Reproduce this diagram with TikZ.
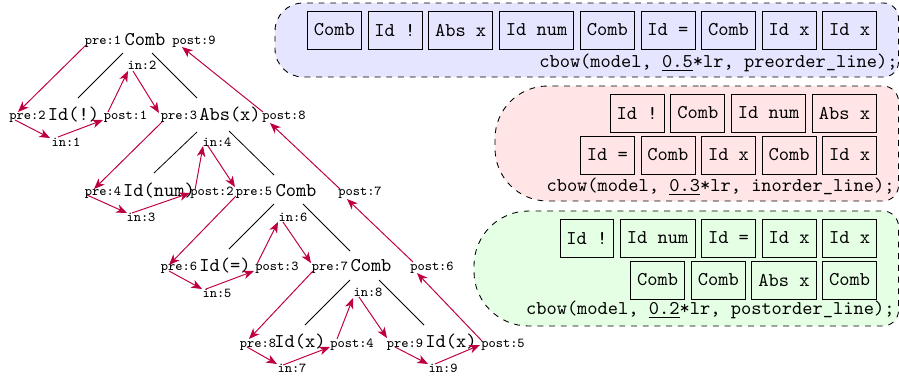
\documentclass[tikz,border=0pt]{standalone}
\usetikzlibrary{arrows.meta,positioning}
\begin{document}
\begin{tikzpicture}[x=0.5128pt,y=-0.5128pt,
  tnode/.style={font=\ttfamily, inner sep=1pt},
  lab/.style={font=\scriptsize\ttfamily, inner sep=0.5pt},
  trav/.style={draw=purple, line width=0.5pt, -{Stealth[length=5.5pt,width=4.4pt,inset=1.6pt]}},
  tok/.style={draw, font=\ttfamily, minimum height=19.5pt, inner xsep=3.33pt, anchor=east},
  grp/.style={draw, dashed, line width=0.45pt},
  cb/.style={font=\ttfamily, anchor=base east, inner sep=0pt}
]
\useasboundingbox (0,0) rectangle (899,379);

% group backgrounds (large rounding on the left, small on the right)
\path[grp, fill=blue!10, rounded corners=14.4pt] (600,3)
   [rounded corners=7.7pt] -- (898.5,3) -- (898.5,77) -- (600,77)
   [rounded corners=14.4pt] -- (275,77) -- (275,3) -- (600,3);
\path[grp, fill=red!10, rounded corners=27pt] (700,86)
   [rounded corners=8pt] -- (898.5,86) -- (898.5,201) -- (700,201)
   [rounded corners=27pt] -- (495,201) -- (495,86) -- (700,86);
\path[grp, fill=green!10, rounded corners=28pt] (700,211)
   [rounded corners=8pt] -- (898.5,211) -- (898.5,326) -- (700,326)
   [rounded corners=28pt] -- (474,326) -- (474,211) -- (700,211);

% blue (preorder)
\node[tok] (b9) at (877,30) {Id x};
\node[tok, left=3pt of b9] (b8) {Id x};
\node[tok, left=3pt of b8] (b7) {Comb};
\node[tok, left=3pt of b7] (b6) {Id =};
\node[tok, left=3pt of b6] (b5) {Comb};
\node[tok, left=3pt of b5] (b4) {Id num};
\node[tok, left=3pt of b4] (b3) {Abs x};
\node[tok, left=3pt of b3] (b2) {Id !};
\node[tok, left=3pt of b2] (b1) {Comb};
\node[cb] (bt) at (898,67) {cbow(model, \underline{0.5}*lr, preorder\_line);};

% red (inorder)
\node[tok] (r4) at (877,113) {Abs x};
\node[tok, left=3pt of r4] (r3) {Id num};
\node[tok, left=3pt of r3] (r2) {Comb};
\node[tok, left=3pt of r2] (r1) {Id !};
\node[tok] (r9) at (877,155) {Id x};
\node[tok, left=3pt of r9] (r8) {Comb};
\node[tok, left=3pt of r8] (r7) {Id x};
\node[tok, left=3pt of r7] (r6) {Comb};
\node[tok, left=3pt of r6] (r5) {Id =};
\node[cb] (rt) at (895,191) {cbow(model, \underline{0.3}*lr, inorder\_line);};

% green (postorder)
\node[tok] (g5) at (877,238) {Id x};
\node[tok, left=3pt of g5] (g4) {Id x};
\node[tok, left=3pt of g4] (g3) {Id =};
\node[tok, left=3pt of g3] (g2) {Id num};
\node[tok, left=3pt of g2] (g1) {Id !};
\node[tok] (g9) at (877,280) {Comb};
\node[tok, left=3pt of g9] (g8) {Abs x};
\node[tok, left=3pt of g8] (g7) {Comb};
\node[tok, left=3pt of g7] (g6) {Comb};
\node[cb] (gt) at (895,314) {cbow(model, \underline{0.2}*lr, postorder\_line);};

% tree nodes
\node[tnode] (c1) at (145,40) {Comb};
\node[tnode] (idb) at (73.5,115) {Id(!)};
\node[tnode] (abs) at (230,115) {Abs(x)};
\node[tnode] (idnum) at (159,191) {Id(num)};
\node[tnode] (c2) at (296,191) {Comb};
\node[tnode] (ideq) at (225,266) {Id(=)};
\node[tnode] (c3) at (371,266) {Comb};
\node[tnode] (idx1) at (300,342) {Id(x)};
\node[tnode] (idx2) at (451,342) {Id(x)};

% tree edges
\draw ([shift={(-22,13)}]c1.center) -- ([shift={(4.5,-17)}]idb.center);
\draw ([shift={(7,13)}]c1.center) -- ([shift={(-33,-17)}]abs.center);
\draw ([shift={(-33,17)}]abs.center) -- ([shift={(-5,-18)}]idnum.center);
\draw ([shift={(-1,16)}]abs.center) -- ([shift={(-22,-16)}]c2.center);
\draw ([shift={(-22,13)}]c2.center) -- ([shift={(4,-17)}]ideq.center);
\draw ([shift={(7,13)}]c2.center) -- ([shift={(-21,-15)}]c3.center);
\draw ([shift={(-21,14)}]c3.center) -- ([shift={(5,-17)}]idx1.center);
\draw ([shift={(8,14)}]c3.center) -- ([shift={(-27,-17)}]idx2.center);

% traversal labels
\node[lab] (pre1) at (103,42) {pre:1};
\node[lab] (post9) at (194,42) {post:9};
\node[lab] (in2) at (142,65) {in:2};
\node[lab] (pre2) at (27.5,117) {pre:2};
\node[lab] (post1) at (125.5,117) {post:1};
\node[lab] (in1) at (66,142) {in:1};
\node[lab] (pre3) at (179,117) {pre:3};
\node[lab] (post8) at (284,117) {post:8};
\node[lab] (in4) at (217,142) {in:4};
\node[lab] (pre4) at (103,193) {pre:4};
\node[lab] (post2) at (212,193) {post:2};
\node[lab] (in3) at (141,217) {in:3};
\node[lab] (pre5) at (254,193) {pre:5};
\node[lab] (post7) at (360,193) {post:7};
\node[lab] (in6) at (293,217) {in:6};
\node[lab] (pre6) at (179,268) {pre:6};
\node[lab] (post3) at (277,268) {post:3};
\node[lab] (in5) at (217,293) {in:5};
\node[lab] (pre7) at (330,268) {pre:7};
\node[lab] (post6) at (432,268) {post:6};
\node[lab] (in8) at (368,292) {in:8};
\node[lab] (pre8) at (258,345) {pre:8};
\node[lab] (post4) at (352,345) {post:4};
\node[lab] (in7) at (292,368) {in:7};
\node[lab] (pre9) at (405,345) {pre:9};
\node[lab] (post5) at (503,345) {post:5};
\node[lab] (in9) at (443,368) {in:9};

% traversal arrows
\draw[trav] ([shift={(-17,3)}]pre1.center) -- ([shift={(-9.5,-5)}]pre2.center);
\draw[trav] ([shift={(-12.5,3)}]pre2.center) -- ([shift={(-16,-4)}]in1.center);
\draw[trav] ([shift={(-8,-5)}]in1.center) -- ([shift={(-22.5,3)}]post1.center);
\draw[trav] ([shift={(-17.5,-5)}]post1.center) -- ([shift={(-14,6)}]in2.center);
\draw[trav] ([shift={(-9,6)}]in2.center) -- ([shift={(-20,-4)}]pre3.center);
\draw[trav] ([shift={(-17,5)}]pre3.center) -- ([shift={(-9,-4)}]pre4.center);
\draw[trav] ([shift={(-16,2)}]pre4.center) -- ([shift={(-14,-4)}]in3.center);
\draw[trav] ([shift={(-9,-4)}]in3.center) -- ([shift={(-22,0)}]post2.center);
\draw[trav] ([shift={(-17,-3)}]post2.center) -- ([shift={(-14,4)}]in4.center);
\draw[trav] ([shift={(-9,4)}]in4.center) -- ([shift={(-19,-6)}]pre5.center);
\draw[trav] ([shift={(-18,3)}]pre5.center) -- ([shift={(-10,-3)}]pre6.center);
\draw[trav] ([shift={(-10,3)}]pre6.center) -- ([shift={(-15,-4)}]in5.center);
\draw[trav] ([shift={(-11,-4)}]in5.center) -- ([shift={(-23,3)}]post3.center);
\draw[trav] ([shift={(-20,-4)}]post3.center) -- ([shift={(-15,5)}]in6.center);
\draw[trav] ([shift={(-10,5)}]in6.center) -- ([shift={(-19,-5)}]pre7.center);
\draw[trav] ([shift={(-17,3)}]pre7.center) -- ([shift={(-9,-6)}]pre8.center);
\draw[trav] ([shift={(-11,2)}]pre8.center) -- ([shift={(-15,-4)}]in7.center);
\draw[trav] ([shift={(-9,-3)}]in7.center) -- ([shift={(-22,2)}]post4.center);
\draw[trav] ([shift={(-15,-6)}]post4.center) -- ([shift={(-15,6)}]in8.center);
\draw[trav] ([shift={(-9,5)}]in8.center) -- ([shift={(-18,-7)}]pre9.center);
\draw[trav] ([shift={(-10,2)}]pre9.center) -- ([shift={(-15,-4)}]in9.center);
\draw[trav] ([shift={(-8,-4)}]in9.center) -- ([shift={(-23,0)}]post5.center);
\draw[trav] ([shift={(-21,-4)}]post5.center) -- ([shift={(-15,5)}]post6.center);
\draw[trav] ([shift={(-19,-6)}]post6.center) -- ([shift={(-13,6)}]post7.center);
\draw[trav] ([shift={(-20,-4)}]post7.center) -- ([shift={(-14,6)}]post8.center);
\draw[trav] ([shift={(-21,-5)}]post8.center) -- ([shift={(-12,5)}]post9.center);
\end{tikzpicture}
\end{document}
